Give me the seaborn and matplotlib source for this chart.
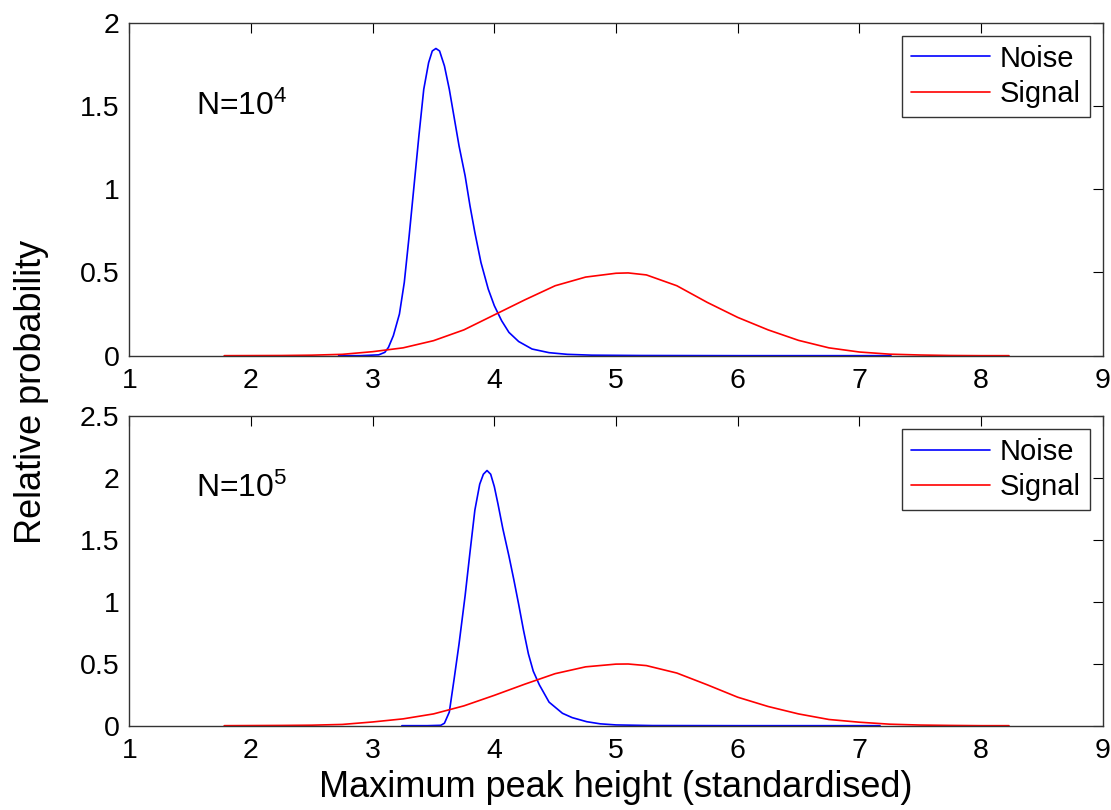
import numpy as np
import pandas as pd
import seaborn as sns
import matplotlib.pyplot as plt

# values
noise4_x = [2.72, 2.90, 3.05, 3.10, 3.13, 3.17, 3.22, 3.26, 3.30, 3.34, 3.38, 3.42, 3.46, 3.49, 3.52,
            3.55, 3.59, 3.63, 3.67, 3.71, 3.76, 3.80, 3.84, 3.89, 3.95, 4.00, 4.06, 4.12, 4.20, 4.31,
            4.45, 4.60, 4.80, 5.20, 6.00, 7.26]
noise4_y = [0.0, 0.0, 0.005, 0.02, 0.05, 0.12, 0.25, 0.44, 0.72, 1.02, 1.32, 1.60, 1.76, 1.83, 1.845,
            1.83, 1.74, 1.60, 1.43, 1.26, 1.08, 0.90, 0.74, 0.56, 0.40, 0.30, 0.21, 0.14, 0.085, 0.04,
            0.018, 0.008, 0.003, 0.001, 0.0, 0.0]

signal4_x = [1.78, 2.25, 2.50, 2.75, 3.00, 3.25, 3.50, 3.75, 4.00, 4.25, 4.50, 4.75, 5.00, 5.10,
             5.25, 5.50, 5.75, 6.00, 6.25, 6.50, 6.75, 7.00, 7.25, 7.50, 7.75, 8.00, 8.23]
signal4_y = [0.0, 0.001, 0.003, 0.008, 0.024, 0.047, 0.09, 0.155, 0.245, 0.335, 0.42, 0.472, 0.495, 0.497,
             0.485, 0.42, 0.32, 0.23, 0.155, 0.092, 0.047, 0.022, 0.009, 0.004, 0.001, 0.0, 0.0]

noise5_x = [3.24, 3.45, 3.56, 3.59, 3.63, 3.67, 3.71, 3.76, 3.80, 3.84, 3.88, 3.91, 3.94, 3.97,
            4.00, 4.03, 4.07, 4.12, 4.16, 4.20, 4.24, 4.28, 4.32, 4.37, 4.45, 4.56, 4.64, 4.76,
            4.87, 5.00, 5.30, 6.00, 7.17]
noise5_y = [0.0, 0.0, 0.003, 0.02, 0.11, 0.38, 0.66, 1.05, 1.40, 1.74, 1.95, 2.03, 2.06, 2.03,
            1.93, 1.79, 1.59, 1.37, 1.18, 0.98, 0.77, 0.58, 0.44, 0.33, 0.19, 0.10, 0.065, 0.032,
            0.015, 0.006, 0.001, 0.0, 0.0]

signal5_x = [1.78, 2.25, 2.50, 2.75, 3.00, 3.25, 3.50, 3.75, 4.00, 4.25, 4.50, 4.75, 5.00, 5.10,
             5.25, 5.50, 5.75, 6.00, 6.25, 6.50, 6.75, 7.00, 7.25, 7.50, 7.75, 8.00, 8.23]
signal5_y = [0.0, 0.002, 0.004, 0.01, 0.03, 0.055, 0.095, 0.16, 0.245, 0.335, 0.42, 0.475, 0.497, 0.498,
             0.485, 0.425, 0.33, 0.23, 0.155, 0.095, 0.05, 0.028, 0.012, 0.005, 0.002, 0.0, 0.0]

panel_labels = ['N=10$^4$', 'N=10$^5$']
x_ticks = [1, 2, 3, 4, 5, 6, 7, 8, 9]
y_ticks_top = [0, 0.5, 1, 1.5, 2]
y_ticks_bottom = [0, 0.5, 1, 1.5, 2, 2.5]

sns.set_style('white')
plt.rcParams['font.family'] = ['Liberation Sans', 'DejaVu Sans']
plt.rcParams['mathtext.fontset'] = 'custom'
plt.rcParams['mathtext.rm'] = 'Liberation Sans'
plt.rcParams['mathtext.it'] = 'Liberation Sans'
plt.rcParams['text.color'] = 'black'
plt.rcParams['axes.labelcolor'] = 'black'

def make_df(nx, ny, sx, sy):
    return pd.concat([
        pd.DataFrame({'x': nx, 'y': ny, 'series': 'Noise'}),
        pd.DataFrame({'x': sx, 'y': sy, 'series': 'Signal'}),
    ], ignore_index=True)

panels = [
    (make_df(noise4_x, noise4_y, signal4_x, signal4_y), y_ticks_top, 1.5),
    (make_df(noise5_x, noise5_y, signal5_x, signal5_y), y_ticks_bottom, 1.92),
]

fig = plt.figure(figsize=(11.11, 8.10), dpi=100)
ax_top = fig.add_axes([0.1164, 0.5609, 0.8761, 0.4111])
ax_bot = fig.add_axes([0.1164, 0.1041, 0.8761, 0.3823])

for ax, (df, yt, ty), label in zip([ax_top, ax_bot], panels, panel_labels):
    sns.lineplot(data=df, x='x', y='y', hue='series', estimator=None, sort=False,
                 palette={'Noise': '#0000ff', 'Signal': '#ff0000'}, linewidth=1.2, ax=ax)
    ax.set_xlim(1, 9)
    ax.set_ylim(yt[0], yt[-1])
    ax.set_xticks(x_ticks)
    ax.set_xticklabels([str(v) for v in x_ticks])
    ax.set_yticks(yt)
    ax.set_yticklabels([f'{v:g}' for v in yt])
    ax.set_xlabel('')
    ax.set_ylabel('')
    ax.tick_params(direction='in', length=7, width=0.8, top=True, right=True,
                   labelsize=20.5, colors='black')
    ax.tick_params(axis='x', pad=9)
    ax.tick_params(axis='y', pad=7)
    for sp in ax.spines.values():
        sp.set_color('#333333')
        sp.set_linewidth(1.0)
    ax.text(1.55, ty, label, fontsize=23, va='center', ha='left')
    leg = ax.legend(loc='upper right', fontsize=21, frameon=True, fancybox=False,
                    edgecolor='black', handlelength=2.7, handletextpad=0.35,
                    borderpad=0.3, labelspacing=0.25, borderaxespad=0.45)
    leg.get_frame().set_linewidth(1.0)
    leg.set_title(None)

fig.text(0.028, 0.516, 'Relative probability', rotation=90, fontsize=26,
         ha='center', va='center')
fig.text(0.554, 0.028, 'Maximum peak height (standardised)', fontsize=26,
         ha='center', va='center')

fig.savefig('out.png', dpi=100)
